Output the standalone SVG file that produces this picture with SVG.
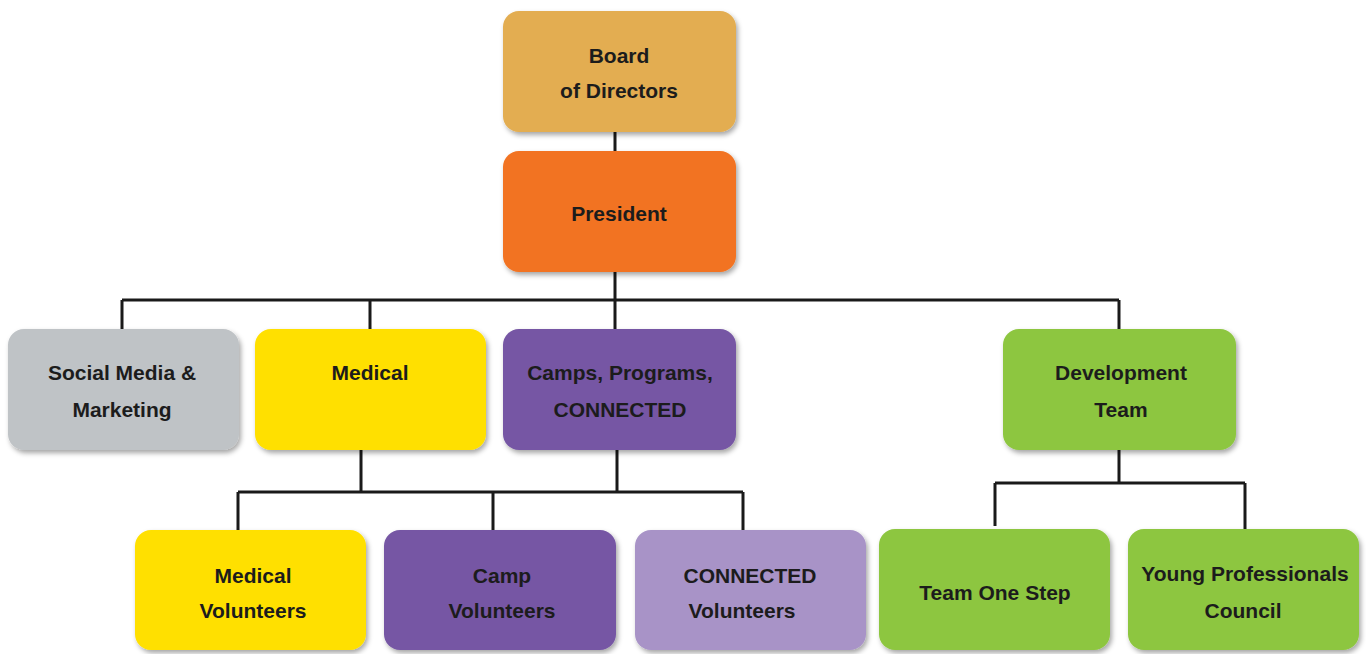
<svg xmlns="http://www.w3.org/2000/svg" width="1366" height="654" viewBox="0 0 1366 654">
<defs>
<filter id="sh" x="-10%" y="-10%" width="125%" height="130%">
<feDropShadow dx="2" dy="3" stdDeviation="2.5" flood-color="#000" flood-opacity="0.35"/>
</filter>
<style>
.box{filter:url(#sh);}
text{font-family:"Liberation Sans",Arial,sans-serif;font-weight:bold;font-size:21px;fill:#1c1c1c;text-anchor:middle;dominant-baseline:central;}
.ln{stroke:#1a1a1a;stroke-width:3;fill:none;}
</style>
</defs>
<rect width="1366" height="654" fill="#fff"/>
<g id="connectors">
<path class="ln" d="M615 132V152M615 270V300M122 300H1119M122 300V331M370 300V331M615 300V331M1119 300V331"/>
<path class="ln" d="M361 449V492M617 449V492M238 492H743M238 492V531M493 492V531M743 492V531"/>
<path class="ln" d="M1119 449V483M995 483H1245M995 483V526M1245 483V529"/>
</g>
<g id="board"><rect class="box" x="503" y="11" width="233" height="121" rx="16" fill="#E3AD51"/><text x="619" y="55">Board</text><text x="619" y="90">of Directors</text></g>
<g id="president"><rect class="box" x="503" y="151" width="233" height="121" rx="16" fill="#F27321"/><text x="619" y="213">President</text></g>
<g id="social"><rect class="box" x="8" y="329" width="231" height="121" rx="16" fill="#BFC3C6"/><text x="122" y="372">Social Media &amp;</text><text x="122" y="409">Marketing</text></g>
<g id="medical"><rect class="box" x="255" y="329" width="231" height="121" rx="16" fill="#FFE000"/><text x="370" y="372">Medical</text></g>
<g id="camps"><rect class="box" x="503" y="329" width="233" height="121" rx="16" fill="#7657A4"/><text x="620" y="372">Camps, Programs,</text><text x="620" y="409">CONNECTED</text></g>
<g id="development"><rect class="box" x="1003" y="329" width="233" height="121" rx="16" fill="#8DC63F"/><text x="1121" y="372">Development</text><text x="1121" y="409">Team</text></g>
<g id="medical-volunteers"><rect class="box" x="135" y="530" width="231" height="120" rx="16" fill="#FFE000"/><text x="253" y="575">Medical</text><text x="253" y="610">Volunteers</text></g>
<g id="camp-volunteers"><rect class="box" x="384" y="530" width="232" height="120" rx="16" fill="#7657A4"/><text x="502" y="575">Camp</text><text x="502" y="610">Volunteers</text></g>
<g id="connected-volunteers"><rect class="box" x="635" y="530" width="231" height="120" rx="16" fill="#A893C7"/><text x="750" y="575">CONNECTED</text><text x="742" y="610">Volunteers</text></g>
<g id="team-one-step"><rect class="box" x="879" y="529" width="231" height="121" rx="16" fill="#8DC63F"/><text x="995" y="592">Team One Step</text></g>
<g id="young-professionals"><rect class="box" x="1128" y="529" width="231" height="121" rx="16" fill="#8DC63F"/><text x="1245" y="573">Young Professionals</text><text x="1243" y="610">Council</text></g>
</svg>
